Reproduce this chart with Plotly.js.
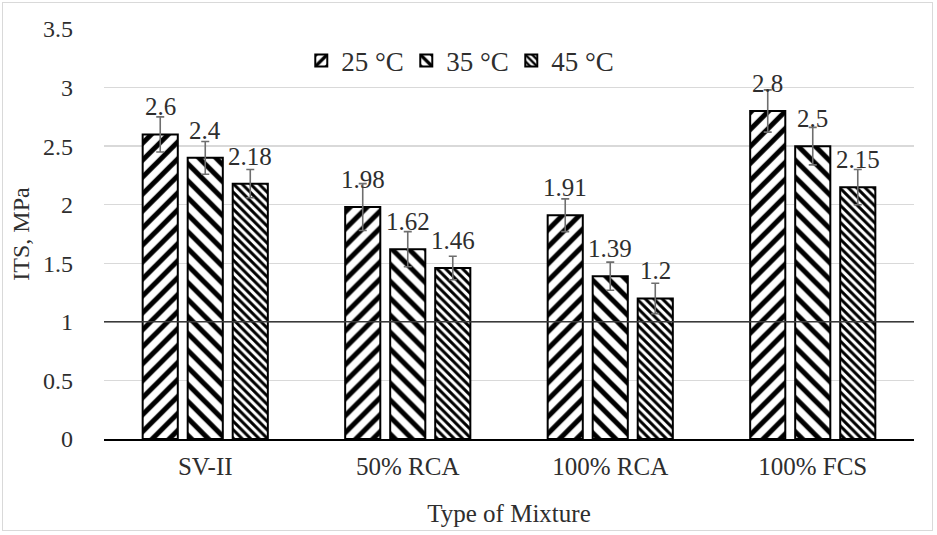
<!DOCTYPE html>
<html>
<head>
<meta charset="utf-8">
<script src="https://cdn.plot.ly/plotly-3.0.1.min.js"></script>
<style>
html,body{margin:0;padding:0;background:#fff;}
#wrap{position:relative;width:937px;height:535px;}
#chart{position:absolute;left:0;top:0;width:937px;height:535px;}
#frame{position:absolute;left:2px;top:2px;width:931px;height:529px;border:1.5px solid #d9d9d9;box-sizing:border-box;pointer-events:none;}
</style>
</head>
<body>
<div id="wrap"><div id="chart"></div><div id="frame"></div></div>
<script>
const categories = ['SV-II', '50% RCA', '100% RCA', '100% FCS'];
const seriesNames = ['25 °C', '35 °C', '45 °C'];
const its25 = [2.6, 1.98, 1.91, 2.8];
const its35 = [2.4, 1.62, 1.39, 2.5];
const its45 = [2.18, 1.46, 1.2, 2.15];
const err25 = [0.15, 0.2, 0.14, 0.18];
const err35 = [0.14, 0.15, 0.12, 0.16];
const err45 = [0.12, 0.1, 0.13, 0.15];
const yTicks = [0, 0.5, 1, 1.5, 2, 2.5, 3, 3.5];

const FONT = '"Liberation Serif", "Times New Roman", Times, serif';
const TXT = '#2e2e2e';
const seriesVals = [its25, its35, its45];
const seriesErr = [err25, err35, err45];
const patterns = [
  {shape: '/', size: 12, solidity: 0.42},
  {shape: '\\', size: 12, solidity: 0.42},
  {shape: '\\', size: 6, solidity: 0.5}
];

const traces = seriesVals.map((vals, i) => ({
  type: 'bar',
  name: seriesNames[i],
  x: categories,
  y: vals,
  marker: {
    color: 'white',
    pattern: Object.assign({fgcolor: 'black', bgcolor: 'white', fillmode: 'replace'}, patterns[i]),
    line: {color: 'black', width: 2}
  },
  error_y: {type: 'data', array: seriesErr[i], visible: true, color: '#6e6e6e', thickness: 1.6, width: 4},
  hoverinfo: 'x+y'
}));

const offsets = [-45, 0, 45];
const annotations = [];
seriesVals.forEach((vals, i) => {
  vals.forEach((v, j) => {
    annotations.push({
      x: categories[j], y: v, xref: 'x', yref: 'y',
      text: String(v), showarrow: false,
      xshift: offsets[i], yshift: 12, yanchor: 'bottom',
      font: {family: FONT, size: 25, color: TXT}
    });
  });
});

const layout = {
  width: 937, height: 535,
  margin: {l: 104, r: 23, t: 29, b: 96},
  paper_bgcolor: 'white', plot_bgcolor: 'white',
  barmode: 'group', bargap: 0.333, bargroupgap: 0.22,
  font: {family: FONT, size: 24, color: TXT},
  xaxis: {
    type: 'category',
    showline: true, linecolor: 'black', linewidth: 2,
    ticks: '', showgrid: false, ticklabelstandoff: 4,
    tickfont: {family: FONT, size: 25, color: TXT},
    title: {text: 'Type of Mixture', font: {family: FONT, size: 25, color: TXT}, standoff: 25}
  },
  yaxis: {
    range: [0, 3.5], tickvals: yTicks, ticktext: yTicks.map(String),
    showgrid: true, gridcolor: '#d9d9d9', gridwidth: 1.5,
    zeroline: false, ticks: '', ticklen: 0, ticklabelstandoff: 30,
    tickfont: {family: FONT, size: 24, color: TXT},
    title: {text: 'ITS, MPa', font: {family: FONT, size: 24, color: TXT}, standoff: 6}
  },
  legend: {
    orientation: 'h', x: 0.438, xanchor: 'center', y: 0.922, yanchor: 'middle',
    font: {family: FONT, size: 27, color: TXT},
    bgcolor: 'rgba(0,0,0,0)', itemwidth: 30, entrywidth: 60, entrywidthmode: 'pixels'
  },
  shapes: [{
    type: 'line', xref: 'paper', x0: 0, x1: 1, yref: 'y', y0: 1, y1: 1,
    line: {color: '#3a3a3a', width: 1.5}, layer: 'above'
  }],
  annotations: annotations,
  showlegend: true
};

Plotly.newPlot('chart', traces, layout, {displayModeBar: false, staticPlot: true});
</script>
</body>
</html>
